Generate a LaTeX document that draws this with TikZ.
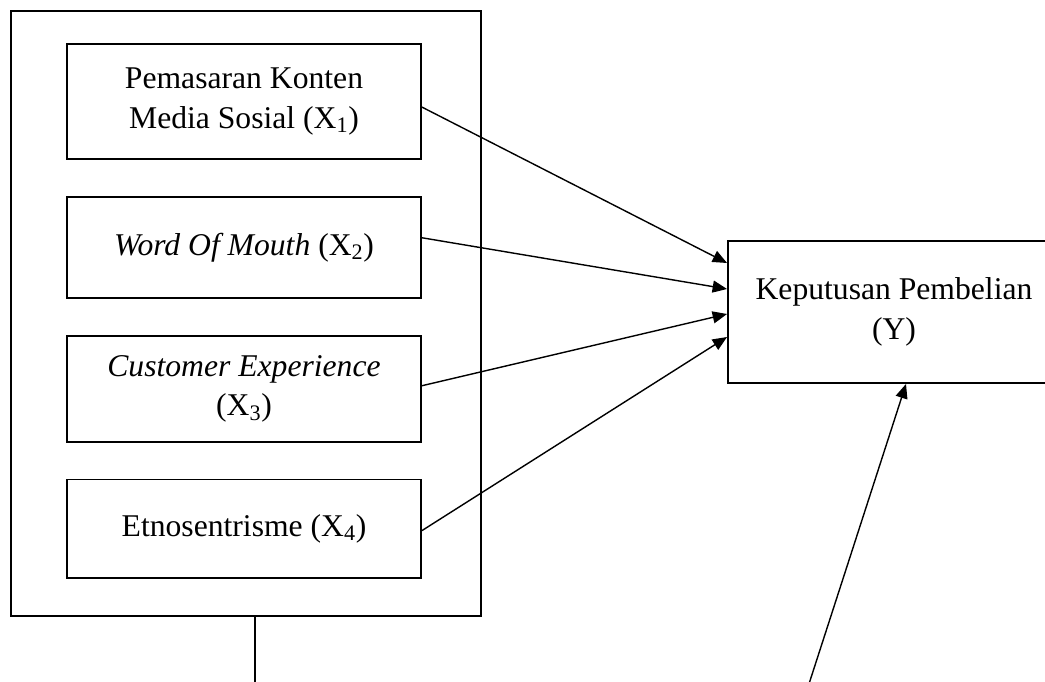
\documentclass[tikz,border=0pt]{standalone}
\usepackage{fontspec}
\setmainfont{Liberation Serif}
\usetikzlibrary{arrows.meta,positioning}

\begin{document}
\begin{tikzpicture}[x=0.025cm, y=-0.025cm, node distance=0.9cm, >={Triangle[length=0.36cm,width=0.3cm]}]

\tikzset{
    varbox/.style={
        rectangle,
        draw,
        line width=1.3pt,
        align=center,
        minimum width=8.85cm,
        font=\fontsize{22.5}{28}\selectfont
    },
    link/.style={->, line width=1pt}
}

\useasboundingbox (0,0) rectangle (1045,682);

\node[rectangle,draw,line width=1.3pt,minimum width=11.75cm,minimum height=15.125cm] (grp) at (246,313.5) {};

\node[varbox,minimum height=2.875cm] (xone) at (244,101.5) {Pemasaran Konten\\Media Sosial (X\textsubscript{1})};
\node[varbox,minimum height=2.525cm,below = of xone] (xtwo) {\textit{Word Of Mouth} (X\textsubscript{2})};
\node[varbox,minimum height=2.65cm,below = of xtwo] (xthree) {\textit{Customer Experience}\\(X\textsubscript{3})};
\node[varbox,minimum height=2.45cm,below = of xthree] (xfour) {Etnosentrisme (X\textsubscript{4})};

\node[varbox,minimum width=8.3cm,minimum height=3.55cm] (yvar) at (894,312) {Keputusan Pembelian\\(Y)};

\draw [link] ([yshift=-.14cm]xone.east) -- ([yshift=1.225cm]yvar.west);
\draw [link] ([yshift=.24cm]xtwo.east) -- ([yshift=.575cm]yvar.west);
\draw [link] ([yshift=.075cm]xthree.east) -- ([yshift=-.05cm]yvar.west);
\draw [link] ([yshift=-.05cm]xfour.east) -- ([yshift=-.625cm]yvar.west);

\coordinate (grpend) at (255,690);
\coordinate (yend) at (807,690);
\draw [line width=1pt] (grp.south -| grpend) -- (grpend);
\draw [link] (yend) -- ([xshift=.3cm]yvar.south);
    %
\end{tikzpicture}
\end{document}
